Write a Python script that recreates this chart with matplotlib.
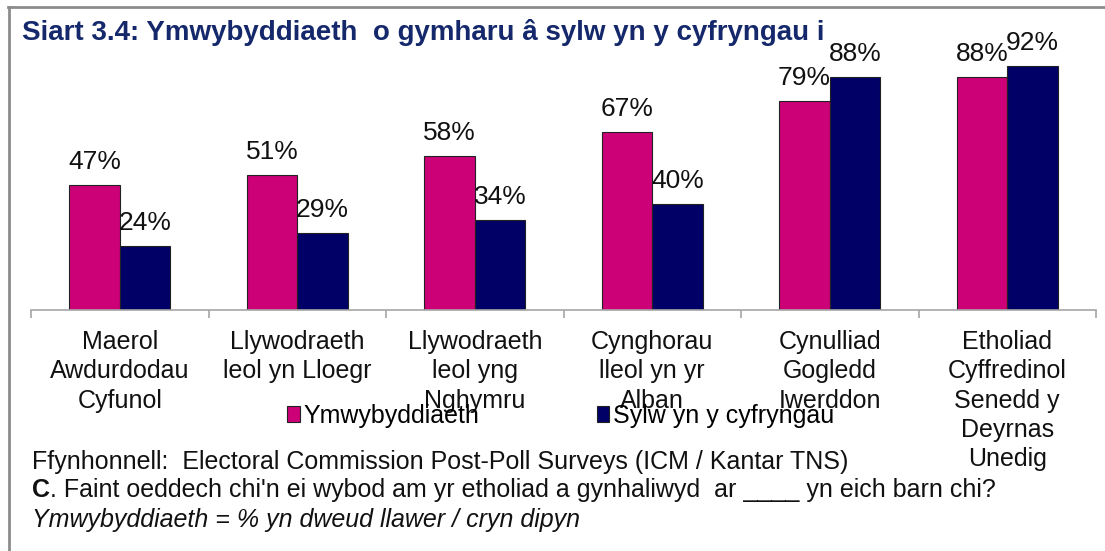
import numpy as np
import matplotlib.pyplot as plt
from matplotlib.lines import Line2D
from matplotlib.patches import Patch

plt.rcParams['font.family'] = ['Liberation Sans', 'DejaVu Sans']

categories = [
    'Maerol\nAwdurdodau\nCyfunol',
    'Llywodraeth\nleol yn Lloegr',
    'Llywodraeth\nleol yng\nNghymru',
    'Cynghorau\nlleol yn yr\nAlban',
    'Cynulliad\nGogledd\nIwerddon',
    'Etholiad\nCyffredinol\nSenedd y\nDeyrnas\nUnedig',
]
awareness = [47, 51, 58, 67, 79, 88]
media = [24, 29, 34, 40, 88, 92]
series_names = ['Ymwybyddiaeth', 'Sylw yn y cyfryngau']

PINK = '#CC0077'
NAVY = '#000066'
AXIS_GREY = '#A6A6A6'
TXT = '#111111'

W, H = 1105, 551
fig = plt.figure(figsize=(W / 100, H / 100), dpi=100)
ax = fig.add_axes([31 / W, 1 - 310 / H, (1096 - 31) / W, (310 - 45) / H])

x = np.arange(len(categories))
bw = 0.285
b1 = ax.bar(x - bw / 2, awareness, bw, color=PINK, edgecolor='#222222', linewidth=0.8)
b2 = ax.bar(x + bw / 2, media, bw, color=NAVY, edgecolor='#222222', linewidth=0.8)

for bars, vals in ((b1, awareness), (b2, media)):
    for r, v in zip(bars, vals):
        ax.annotate(f'{v}%', (r.get_x() + r.get_width() / 2, r.get_height()),
                    xytext=(0, 8), textcoords='offset points',
                    ha='center', va='bottom', fontsize=19, color=TXT)

ax.set_xlim(-0.5, len(categories) - 0.5)
ax.set_ylim(0, 100)
ax.set_yticks([])
for s in ('top', 'right', 'left'):
    ax.spines[s].set_visible(False)
ax.spines['bottom'].set_color(AXIS_GREY)
ax.spines['bottom'].set_linewidth(1.2)

# tick marks between the categories, labels centred on each group
ax.set_xticks(np.arange(len(categories) + 1) - 0.5)
ax.set_xticklabels([])
ax.tick_params(axis='x', direction='out', length=6, width=1.2, color=AXIS_GREY)
for i, lab in enumerate(categories):
    ax.text(i, -7.5, lab, ha='center', va='top', fontsize=18,
            linespacing=1.28, color=TXT)

# legend sits on top of the category labels, as in the original
handles = [Patch(facecolor=PINK, edgecolor='#222222', linewidth=0.8),
           Patch(facecolor=NAVY, edgecolor='#222222', linewidth=0.8)]
fig.legend(handles, series_names, loc='center left',
           bbox_to_anchor=(287 / W, 1 - 416 / H), ncol=2, frameon=False,
           fontsize=18, handlelength=0.5, handleheight=0.6,
           handletextpad=0.15, columnspacing=4.7, borderpad=0, borderaxespad=0)

fig.text(22 / W, 1 - 32 / H,
         'Siart 3.4: Ymwybyddiaeth  o gymharu â sylw yn y cyfryngau i',
         fontsize=20, fontweight='bold', color='#14286B', va='center')

fig.text(32 / W, 1 - 462 / H,
         'Ffynhonnell:  Electoral Commission Post-Poll Surveys (ICM / Kantar TNS)',
         fontsize=18, va='center', color=TXT)
c_txt = fig.text(32 / W, 1 - 490 / H, 'C', fontsize=18, fontweight='bold',
                 va='center', color=TXT)
fig.add_artist(plt.Annotation(
    ". Faint oeddech chi'n ei wybod am yr etholiad a gynhaliwyd  ar ____ yn eich barn chi?",
    xy=(1, 0.5), xycoords=c_txt, va='center', ha='left', fontsize=18, color=TXT))
fig.text(32 / W, 1 - 520 / H, 'Ymwybyddiaeth = % yn dweud llawer / cryn dipyn',
         fontsize=18, style='italic', va='center', color=TXT)

# grey frame on top and left edges
fig.add_artist(Line2D([8 / W, 1], [1 - 6.5 / H, 1 - 6.5 / H], color='#8C8C8C', lw=2))
fig.add_artist(Line2D([8.5 / W, 8.5 / W], [0, 1 - 6.5 / H], color='#8C8C8C', lw=2))

fig.savefig('out.png', dpi=100)
